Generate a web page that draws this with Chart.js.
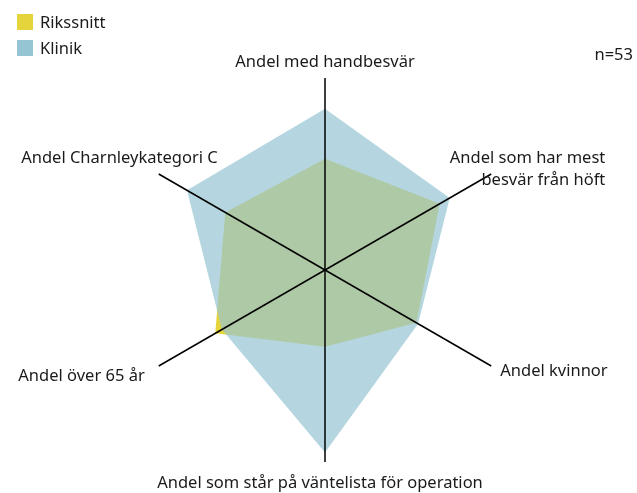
<!DOCTYPE html>
<html>
<head>
<meta charset="utf-8">
<script src="https://cdn.jsdelivr.net/npm/chart.js@4"></script>
<style>
  body { margin: 0; background: #fff; font-family: 'Noto Sans', sans-serif; }
  #wrap { position: relative; width: 637px; height: 493px; }
  .legend { position: absolute; left: 17px; font-size: 16.5px; color: #1a1a1a; line-height: 16px; }
  .legend span { display: inline-block; width: 16px; height: 16px; vertical-align: top; margin-right: 7px; }
  #n { position: absolute; right: 4px; top: 42px; font-size: 16.5px; color: #1a1a1a; }
</style>
</head>
<body>
<div id="wrap">
  <canvas id="radar" width="637" height="493"></canvas>
  <div class="legend" style="top:14px"><span style="background:#e6d43c"></span>Rikssnitt</div>
  <div class="legend" style="top:40px"><span style="background:#95c4d3"></span>Klinik</div>
  <div id="n">n=53</div>
</div>
<script>
// ========================================
// DATA
// ========================================
const kategorier = [
    'Andel med handbesvär',
    ['Andel som har mest', 'besvär från höft'],
    'Andel kvinnor',
    'Andel som står på väntelista för operation',
    'Andel över 65 år',
    'Andel Charnleykategori C'
];
const rikssnitt = [58, 69, 55, 40, 66, 60];
const klinik = [84, 75, 56, 95, 62, 83];

// where each label sits relative to the end of its axis
const etikettPlacering = [
    { align: 'center', dx: 0, dy: -16 },
    { align: 'right', dx: 114, dy: -16 },
    { align: 'left', dx: 9, dy: 5 },
    { align: 'center', dx: -5, dy: 21 },
    { align: 'right', dx: -14, dy: 10 },
    { align: 'right', dx: 59, dy: -16 }
];

const etiketter = {
    id: 'etiketter',
    afterDraw(chart) {
        const scale = chart.scales.r;
        const ctx = chart.ctx;
        ctx.save();
        ctx.font = '16.5px "Noto Sans"';
        ctx.fillStyle = '#1a1a1a';
        ctx.textBaseline = 'middle';
        kategorier.forEach((txt, i) => {
            const p = scale.getPointPositionForValue(i, scale.max);
            const o = etikettPlacering[i];
            ctx.textAlign = o.align;
            const rader = Array.isArray(txt) ? txt : [txt];
            rader.forEach((rad, j) => {
                ctx.fillText(rad, p.x + o.dx, p.y + o.dy + j * 22);
            });
        });
        ctx.restore();
    }
};

new Chart(document.getElementById('radar'), {
    type: 'radar',
    data: {
        labels: kategorier,
        datasets: [
            {
                label: 'Rikssnitt',
                data: rikssnitt,
                backgroundColor: '#e6d43c',
                borderWidth: 0,
                pointRadius: 0,
                fill: true,
                order: 1
            },
            {
                label: 'Klinik',
                data: klinik,
                backgroundColor: 'rgba(149, 196, 211, 0.7)',
                borderWidth: 0,
                pointRadius: 0,
                fill: true,
                order: 0
            }
        ]
    },
    options: {
        responsive: false,
        animation: false,
        layout: { padding: { top: 78, bottom: 31, left: 13, right: 0 } },
        plugins: { legend: { display: false }, tooltip: { enabled: false } },
        scales: {
            r: {
                min: 0,
                max: 100,
                ticks: { display: false },
                grid: { display: false, z: 1 },
                angleLines: { display: true, color: '#000', lineWidth: 1.5 },
                pointLabels: { display: false }
            }
        }
    },
    plugins: [etiketter]
});
</script>
</body>
</html>
